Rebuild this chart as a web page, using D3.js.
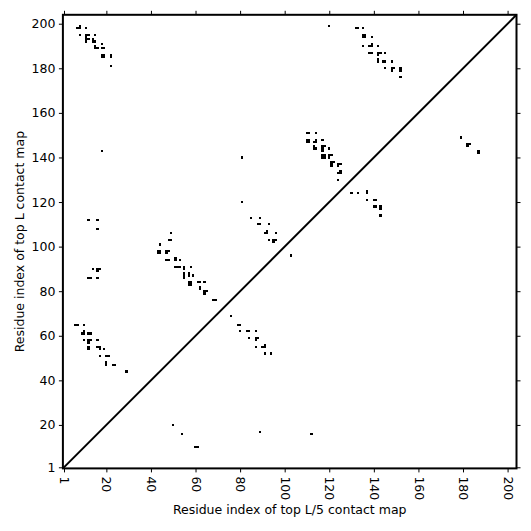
<!DOCTYPE html>
<html>
<head>
<meta charset="utf-8">
<style>
  body { margin: 0; background: #fff; }
  svg text { font-family: "DejaVu Sans", sans-serif; }
</style>
</head>
<body>
<svg id="chart" width="531" height="531"></svg>
<script src="https://cdn.jsdelivr.net/npm/d3@7.9.0/dist/d3.min.js"></script>
<script>
// tick labels shared by both axes
const tickValues = [1, 20, 40, 60, 80, 100, 120, 140, 160, 180, 200];
const seqLength = 204;

// upper-left triangle: top L contacts (residue i on x, residue j on y)
const topLContacts = [
  [7,198],[8,198],[8,199],[11,198],
  [8,195],[11,195],[12,195],[11,194],[15,195],
  [11,193],[12,193],[11,192],[14,193],[14,192],[15,192],[18,191],
  [15,190],[15,189],[16,189],[18,189],[19,189],
  [18,186],[19,186],[18,185],[19,185],[22,186],[22,185],[22,181],
  [18,143],
  [120,199],
  [132,198],[133,198],[135,198],
  [135,195],[136,195],[135,194],[136,194],[139,194],
  [135,190],[138,190],[139,190],[139,191],[142,190],
  [138,187],[139,187],[142,187],[143,187],[142,186],[145,187],
  [142,184],[142,183],[144,183],[145,183],[148,183],
  [145,180],[148,180],[149,180],[148,179],[152,180],[152,179],[152,176],
  [110,151],[111,151],[114,151],
  [110,148],[111,148],[110,147],[111,147],[113,147],[114,147],[114,148],[117,148],
  [113,145],[113,144],[114,144],[117,145],[118,145],[117,144],[117,143],[120,144],
  [117,141],[118,141],[117,140],[118,140],[120,141],[121,141],[120,140],
  [121,138],[122,138],[121,137],[121,136],[124,137],[125,137],[124,136],
  [124,133],[125,133],[125,134],[124,130],
  [81,140],[81,120],
  [85,113],[89,113],[88,110],[89,110],[93,110],
  [91,106],[92,106],[92,107],[96,106],
  [93,103],[95,103],[96,103],[95,102],
  [12,112],[16,112],[16,108],
  [14,90],[16,90],[17,90],[16,89],[12,86],[13,86],[16,86],
  [49,106],[48,103],[49,103],[44,101],
  [43,98],[44,98],[43,97],[44,97],[47,98],[48,98],[47,97],
  [47,94],[48,94],[51,94],[51,95],[53,94],
  [51,91],[52,91],[53,91],[55,91],[55,90],[58,91],
  [55,88],[55,87],[55,86],[57,88],[57,87],[59,87],
  [57,84],[58,84],[57,83],[58,83],[61,84],[62,84],[64,84],
  [62,82],[62,81],[64,80],[65,80],[64,79],
  [68,76],[69,76],
  [6,65],[7,65],[10,65],
  [9,61],[10,61],[10,62],[12,61],[13,61],
  [10,58],[12,58],[13,58],[12,57],[16,58],
  [12,55],[12,54],[16,55],[17,55],[17,54],[19,54],
  [17,51],[20,51],[21,51],
  [20,48],[20,47],[23,47],[24,47],
  [29,44]
];

// lower-right triangle: top L/5 contacts
const topL5Contacts = [
  [76,69],
  [79,65],[80,65],[80,62],[83,62],[84,62],[87,62],
  [84,59],[87,59],[88,59],[87,58],
  [87,55],[90,55],[91,55],[91,56],[91,52],[94,52],
  [103,96],
  [130,124],[133,124],[137,124],[137,125],
  [137,121],[140,121],[141,121],
  [140,118],[141,118],[143,118],[143,117],[143,114],
  [179,149],[182,146],[183,146],[182,145],[187,143],[187,142],
  [50,20],[54,16],[60,10],[61,10],[89,17],[112,16]
];

const svg = d3.select("#chart");

// plot frame in pixels
const plotLeft = 62.9, plotRight = 516.5, plotTop = 14.8, plotBottom = 468.4;

const x = d3.scaleLinear().domain([0.5, seqLength]).range([plotLeft, plotRight]);
const y = d3.scaleLinear().domain([0.5, seqLength]).range([plotBottom, plotTop]);

// contact cells, one residue wide
const allContacts = topLContacts.concat(topL5Contacts);
svg.append("g")
  .attr("class", "cells")
  .selectAll("rect")
  .data(allContacts)
  .join("rect")
  .attr("x", (d) => x(d[0] - 0.5))
  .attr("y", (d) => y(d[1] + 0.5))
  .attr("width", (d) => x(d[0] + 0.5) - x(d[0] - 0.5))
  .attr("height", (d) => y(d[1] - 0.5) - y(d[1] + 0.5))
  .attr("fill", "#000")
  .attr("shape-rendering", "crispEdges");

// diagonal
svg.append("path")
  .datum([[0.5, 0.5], [seqLength, seqLength]])
  .attr("d", d3.line().x((d) => x(d[0])).y((d) => y(d[1])))
  .attr("stroke", "#000")
  .attr("stroke-width", 2)
  .attr("fill", "none");

// axes
const gx = svg.append("g")
  .attr("transform", `translate(0,${plotBottom})`)
  .call(d3.axisBottom(x).tickValues(tickValues).tickSize(4));
gx.selectAll("text")
  .attr("transform", "rotate(90)")
  .attr("text-anchor", "start")
  .attr("x", 8)
  .attr("y", 0)
  .attr("dy", "0.35em");

const gy = svg.append("g")
  .attr("transform", `translate(${plotLeft},0)`)
  .call(d3.axisLeft(y).tickValues(tickValues).tickSize(4).tickPadding(3.5));

const gTop = svg.append("g")
  .attr("transform", `translate(0,${plotTop})`)
  .call(d3.axisTop(x).tickValues(tickValues).tickSize(4).tickFormat(() => ""));

const gRight = svg.append("g")
  .attr("transform", `translate(${plotRight},0)`)
  .call(d3.axisRight(y).tickValues(tickValues).tickSize(4).tickFormat(() => ""));

for (const g of [gx, gy, gTop, gRight]) {
  g.select(".domain").remove();
  g.selectAll("line").attr("stroke", "#000").attr("stroke-width", 1);
  g.selectAll("text").attr("fill", "#000").style("font-size", "12.5px")
    .style("font-family", "DejaVu Sans, sans-serif");
}

// spines
svg.append("rect")
  .attr("x", plotLeft)
  .attr("y", plotTop)
  .attr("width", plotRight - plotLeft)
  .attr("height", plotBottom - plotTop)
  .attr("fill", "none")
  .attr("stroke", "#000")
  .attr("stroke-width", 2);

// axis titles
svg.append("text")
  .attr("x", (plotLeft + plotRight) / 2)
  .attr("y", 514)
  .attr("text-anchor", "middle")
  .style("font-size", "12.5px")
  .text("Residue index of top L/5 contact map");

svg.append("text")
  .attr("transform", `translate(24,${(plotTop + plotBottom) / 2}) rotate(-90)`)
  .attr("text-anchor", "middle")
  .style("font-size", "12.5px")
  .text("Residue index of top L contact map");
</script>
</body>
</html>
